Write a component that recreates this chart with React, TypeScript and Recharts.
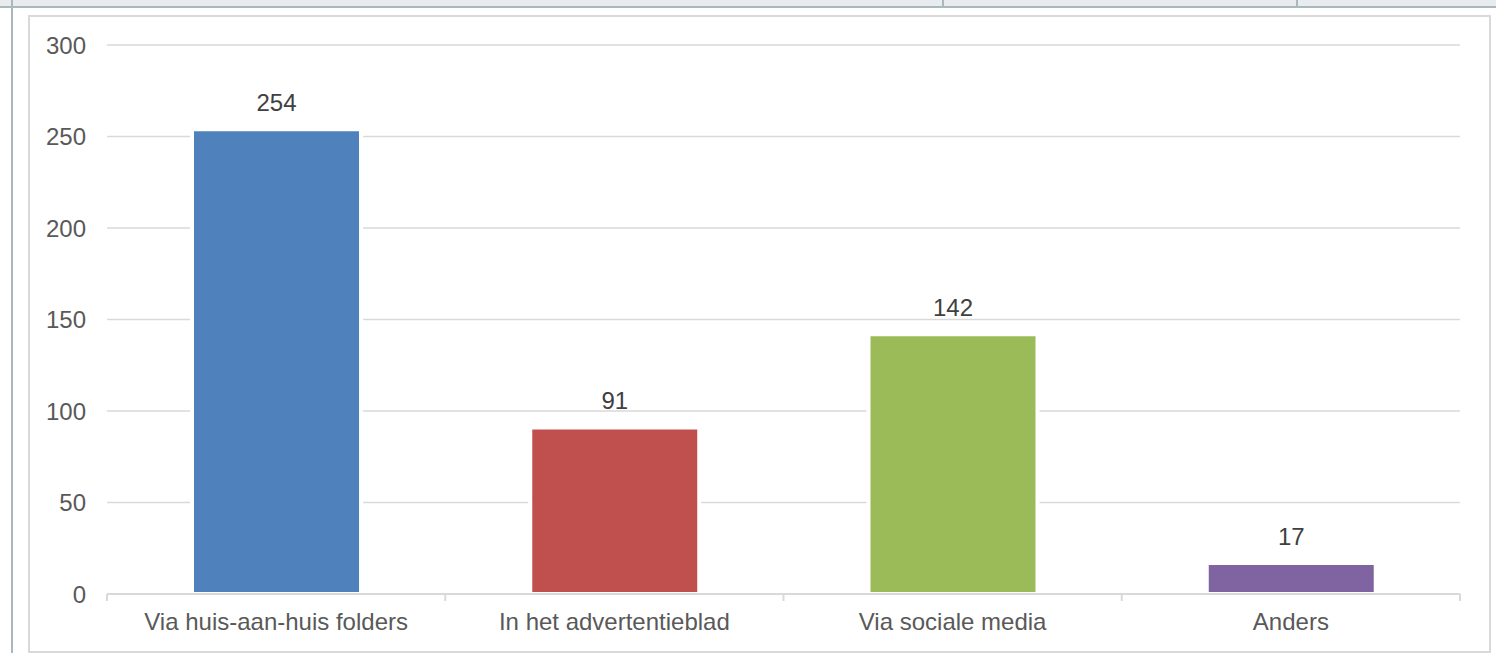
import React from 'react'
import { BarChart, Bar, XAxis, YAxis, CartesianGrid, Cell, LabelList } from 'recharts'

const categories = ['Via huis-aan-huis folders', 'In het advertentieblad', 'Via sociale media', 'Anders']
const counts = [254, 91, 142, 17]
const barColors = ['#4f81bd', '#c0504d', '#9bbb59', '#8064a2']
const yTicks = [0, 50, 100, 150, 200, 250, 300]

const data = categories.map((name, i) => ({ name, value: counts[i] }))

const FONT = '"Liberation Sans", Arial, sans-serif'

function CategoryTick(props: any) {
  const { x, y, payload, index, visibleTicksCount } = props
  const half = payload && payload.offset ? payload.offset : 0
  const axisY = y
  return (
    <g>
      <line x1={x - half} x2={x - half} y1={axisY} y2={axisY + 7} stroke="#d9d9d9" strokeWidth={2} />
      {index === visibleTicksCount - 1 && (
        <line x1={x + half} x2={x + half} y1={axisY} y2={axisY + 7} stroke="#d9d9d9" strokeWidth={2} />
      )}
      <text x={x} y={axisY + 36} textAnchor="middle" fill="#595959" fontSize={24} fontFamily={FONT}>
        {payload.value}
      </text>
    </g>
  )
}

export default function App() {
  return (
    <div style={{ position: 'absolute', left: 0, top: 0, width: 1496, height: 653, background: '#fff', overflow: 'hidden' }}>
      <div style={{ position: 'absolute', left: 0, top: 0, width: 1496, height: 6, background: '#e8ecee', borderBottom: '2px solid #a9b8bd' }} />
      <div style={{ position: 'absolute', left: 942, top: 0, width: 2, height: 6, background: '#a9b8bd' }} />
      <div style={{ position: 'absolute', left: 1296, top: 0, width: 2, height: 6, background: '#a9b8bd' }} />
      <div style={{ position: 'absolute', left: 11, top: 0, width: 2, height: 653, background: '#a9b8bd' }} />
      <div style={{ position: 'absolute', left: 28, top: 15, width: 1459, height: 634, border: '2px solid #d9d9d9' }} />
      <div style={{ position: 'absolute', left: 0, top: 0 }}>
        <BarChart
          width={1496}
          height={653}
          data={data}
          margin={{ top: 45, right: 36, bottom: 9, left: 37 }}
        >
          <CartesianGrid vertical={false} stroke="#d9d9d9" strokeWidth={1.5} />
          <XAxis
            dataKey="name"
            height={50}
            axisLine={{ stroke: '#d9d9d9', strokeWidth: 2 }}
            tickLine={false}
            tickSize={0}
            tickMargin={0}
            interval={0}
            tick={<CategoryTick />}
          />
          <YAxis
            width={70}
            domain={[0, 300]}
            ticks={yTicks}
            axisLine={false}
            tickLine={false}
            tickSize={0}
            tickMargin={21}
            tick={{ fill: '#595959', fontSize: 24, fontFamily: FONT }}
          />
          <Bar dataKey="value" barSize={169} stroke="#ffffff" strokeWidth={4} isAnimationActive={false}>
            {data.map((d, i) => (
              <Cell key={d.name} fill={barColors[i]} />
            ))}
            <LabelList
              dataKey="value"
              position="top"
              offset={18}
              fill="#404040"
              fontSize={24}
              fontFamily={FONT}
            />
          </Bar>
        </BarChart>
      </div>
    </div>
  )
}
